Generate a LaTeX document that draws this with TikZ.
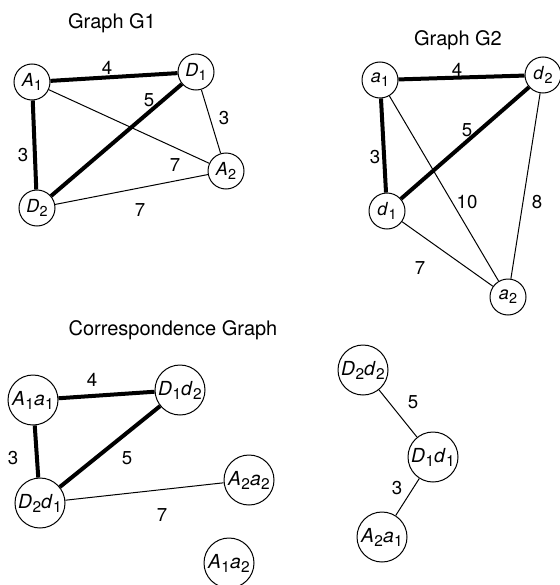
\documentclass[tikz,border=0pt]{standalone}
\usepackage{fontspec}
\setmainfont{TeX Gyre Heros}
\usepackage{graphicx}
\usepackage{tikz}
\usetikzlibrary{positioning}

\newcommand{\vl}[2]{\textit{#1}\kern0.02em\raisebox{-0.4ex}{\scalebox{0.8}{#2}}}

\begin{document}
\begin{tikzpicture}[x=0.75pt,y=-0.75pt,
    vert/.style={circle,draw,line width=0.75pt,inner sep=0pt,minimum size=27pt,
      font=\fontsize{13.5}{15}\selectfont},
    pair/.style={vert,minimum size=37.5pt,font=\fontsize{14.5}{16}\selectfont},
    heavy/.style={line width=3pt},
    light/.style={line width=0.75pt},
    weight/.style={font=\fontsize{14}{16}\selectfont},
    caption/.style={font=\fontsize{15}{18}\selectfont}]
    \useasboundingbox (0,0) rectangle (560,585);

    % graph G1
    \node[caption] (t1) at (112,23) {Graph G1};
    \path
    (32,82) node[vert](A1){\vl{A}{1}}
    (196,72) node[vert](D1){\vl{D}{1}}
    (226,171) node[vert](A2){\vl{A}{2}}
    (37,208) node[vert](D2){\vl{D}{2}};

    \foreach \u/\v in {A1/D1,A1/D2,D1/D2} {
      \draw[heavy] (\u) -- (\v);
    }
    \foreach \u/\v in {A1/A2,D1/A2,D2/A2} {
      \draw[light] (\u) -- (\v);
    }
    \node[weight] (g1w4) at (107,68) {4};
    \node[weight] (g1w5) at (149,100) {5};
    \node[weight] (g1w3r) at (224,118) {3};
    \node[weight] (g1w3l) at (23,155) {3};
    \node[weight] (g1w7u) at (175,165) {7};
    \node[weight] (g1w7b) at (140,210) {7};

    % graph G2
    \node[caption] (t2) at (458,40) {Graph G2};
    \path
    (380,80) node[vert](a1){\vl{a}{1}}
    (543,75) node[vert](d2){\vl{d}{2}}
    (387,211) node[vert](d1){\vl{d}{1}}
    (508,297) node[vert](a2){\vl{a}{2}};

    \foreach \u/\v in {a1/d2,a1/d1,d1/d2} {
      \draw[heavy] (\u) -- (\v);
    }
    \foreach \u/\v in {a1/a2,d2/a2,d1/a2} {
      \draw[light] (\u) -- (\v);
    }
    \node[weight] (g2w4) at (457,70) {4};
    \node[weight] (g2w5) at (467,130) {5};
    \node[weight] (g2w3) at (375,157) {3};
    \node[weight] (g2w10) at (467,202) {10};
    \node[weight] (g2w8) at (537,202) {8};
    \node[weight] (g2w7) at (420,268) {7};

    % correspondence graph
    \node[caption] (t3) at (173,330) {Correspondence Graph};
    \path
    (33,400) node[pair](A1a1){\vl{A}{1}\vl{a}{1}}
    (180,390) node[pair](D1d2){\vl{D}{1}\vl{d}{2}}
    (40,503) node[pair](D2d1){\vl{D}{2}\vl{d}{1}}
    (249,480) node[pair](A2a2){\vl{A}{2}\vl{a}{2}}
    (229,563) node[pair](A1a2){\vl{A}{1}\vl{a}{2}};

    \foreach \u/\v in {A1a1/D1d2,A1a1/D2d1,D1d2/D2d1} {
      \draw[heavy] (\u) -- (\v);
    }
    \draw[light] (D2d1) -- (A2a2);
    \node[weight] (cw4) at (92,380) {4};
    \node[weight] (cw3) at (13,458) {3};
    \node[weight] (cw5) at (127,458) {5};
    \node[weight] (cw7) at (162,515) {7};

    \path
    (363,370) node[pair](D2d2){\vl{D}{2}\vl{d}{2}}
    (433,457) node[pair](D1d1){\vl{D}{1}\vl{d}{1}}
    (382,537) node[pair](A2a1){\vl{A}{2}\vl{a}{1}};

    \draw[light] (D2d2) -- (D1d1);
    \draw[light] (D1d1) -- (A2a1);
    \node[weight] (cw5b) at (413,402) {5};
    \node[weight] (cw3b) at (397,488) {3};
\end{tikzpicture}
\end{document}
